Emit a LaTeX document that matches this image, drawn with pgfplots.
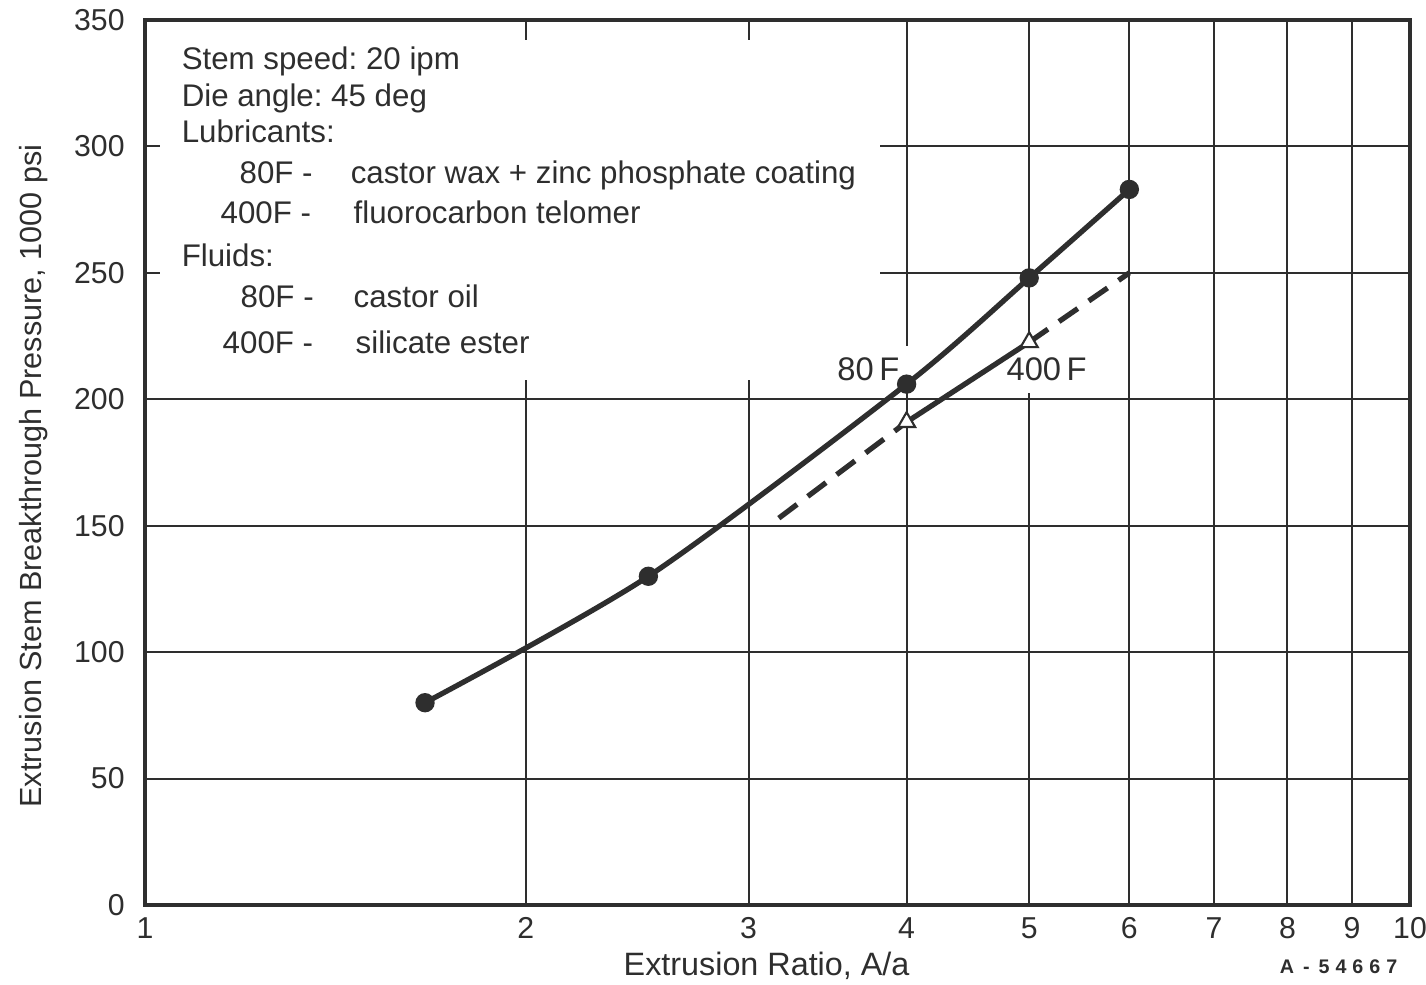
\documentclass[border=0pt]{standalone}
\usepackage{fontspec}
\setmainfont{Liberation Sans}
\usepackage{pgfplots}
\pgfplotsset{compat=1.18}
\definecolor{ink}{HTML}{2E2E2E}
\newcommand{\txt}{\fontsize{8.9}{10.7}\selectfont}
\frenchspacing
\begin{document}
\begin{tikzpicture}
\begin{axis}[
  at={(0,0)}, anchor=south west,
  scale only axis, width=126.5mm, height=88.5mm,
  xmode=log, xmin=1, xmax=10, ymin=0, ymax=350,
  xtick={1,2,3,4,5,6,7,8,9,10},
  xticklabels={1,2,3,4,5,6,7,8,9,10},
  xminorticks=false,
  ytick={0,50,100,150,200,250,300,350},
  grid=major,
  major grid style={line width=0.55pt, draw=ink},
  axis line style={line width=1.3pt, draw=ink},
  major tick length=0pt,
  tick label style={font=\fontsize{8.6}{10}\selectfont, text=ink},
  yticklabel style={xshift=-0.8mm},
  /pgf/number format/assume math mode=true,
  set layers,
  clip=false,
]
\addplot[ink, line width=1.5pt, smooth, tension=0.45, mark=*, mark size=2.5pt,
  mark options={fill=ink, draw=ink, line width=0.5pt, solid}]
  coordinates {(1.665,80) (2.5,130) (4,206) (5,248) (6,283)};
\addplot[ink, line width=1.5pt, dash pattern=on 6.5pt off 3.8pt]
  coordinates {(3.17,153) (4,191)};
\addplot[ink, line width=1.5pt]
  coordinates {(4,191) (5,222.6)};
\addplot[ink, line width=1.5pt, dash pattern=on 6.5pt off 3.8pt]
  coordinates {(5,222.6) (6,250)};
\addplot[only marks, mark=triangle*, mark size=2.8pt,
  mark options={draw=ink, fill=white, line width=0.6pt}]
  coordinates {(4,191) (5,222.6)};
\begin{pgfonlayer}{pre main}
\fill[white] (rel axis cs:0.0119,0.5932) rectangle (rel axis cs:0.5810,0.9774);
\begin{scope}[every node/.style={anchor=base west, font=\txt, text=ink, inner sep=0pt}]
\node at (rel axis cs:0.0285,0.9446) {Stem speed: 20 ipm};
\node at (rel axis cs:0.0285,0.9028) {Die angle: 45 deg};
\node at (rel axis cs:0.0285,0.8621) {Lubricants:};
\node at (rel axis cs:0.0743,0.8147) {80F -};
\node at (rel axis cs:0.1621,0.8147) {castor wax + zinc phosphate coating};
\node at (rel axis cs:0.0593,0.7695) {400F -};
\node at (rel axis cs:0.1644,0.7695) {fluorocarbon telomer};
\node at (rel axis cs:0.0285,0.7220) {Fluids:};
\node at (rel axis cs:0.0751,0.6746) {80F -};
\node at (rel axis cs:0.1644,0.6746) {castor oil};
\node at (rel axis cs:0.0609,0.6226) {400F -};
\node at (rel axis cs:0.1660,0.6226) {silicate ester};
\end{scope}
\node[anchor=base east, fill=white, inner sep=1.2mm, font=\fontsize{9.3}{11}\selectfont, text=ink]
  at (rel axis cs:0.6063,0.5921) {80\,F};
\node[anchor=base west, fill=white, inner sep=1.2mm, font=\fontsize{9.3}{11}\selectfont, text=ink]
  at (rel axis cs:0.6711,0.5921) {400\,F};
\end{pgfonlayer}
\end{axis}
\node[rotate=90, anchor=base, font=\fontsize{8.7}{10}\selectfont, text=ink, inner sep=0pt]
  at (-10.3mm,42.9mm) {Extrusion Stem Breakthrough Pressure, 1000 psi};
\node[anchor=base west, font=\fontsize{9.2}{11}\selectfont, text=ink, inner sep=0pt]
  at (47.8mm,-7.0mm) {Extrusion Ratio, A/a};
\node[anchor=base east, font=\fontsize{5.6}{7}\selectfont\bfseries, text=ink, inner sep=0pt]
  at (125.3mm,-6.8mm) {A\kern0.9mm-\kern0.9mm5\kern0.6mm4\kern0.6mm6\kern0.6mm6\kern0.6mm7};
\pgfresetboundingbox
\path[use as bounding box] (-14.5mm,-7.9mm) rectangle (128.1mm,90.5mm);
\end{tikzpicture}
\end{document}
